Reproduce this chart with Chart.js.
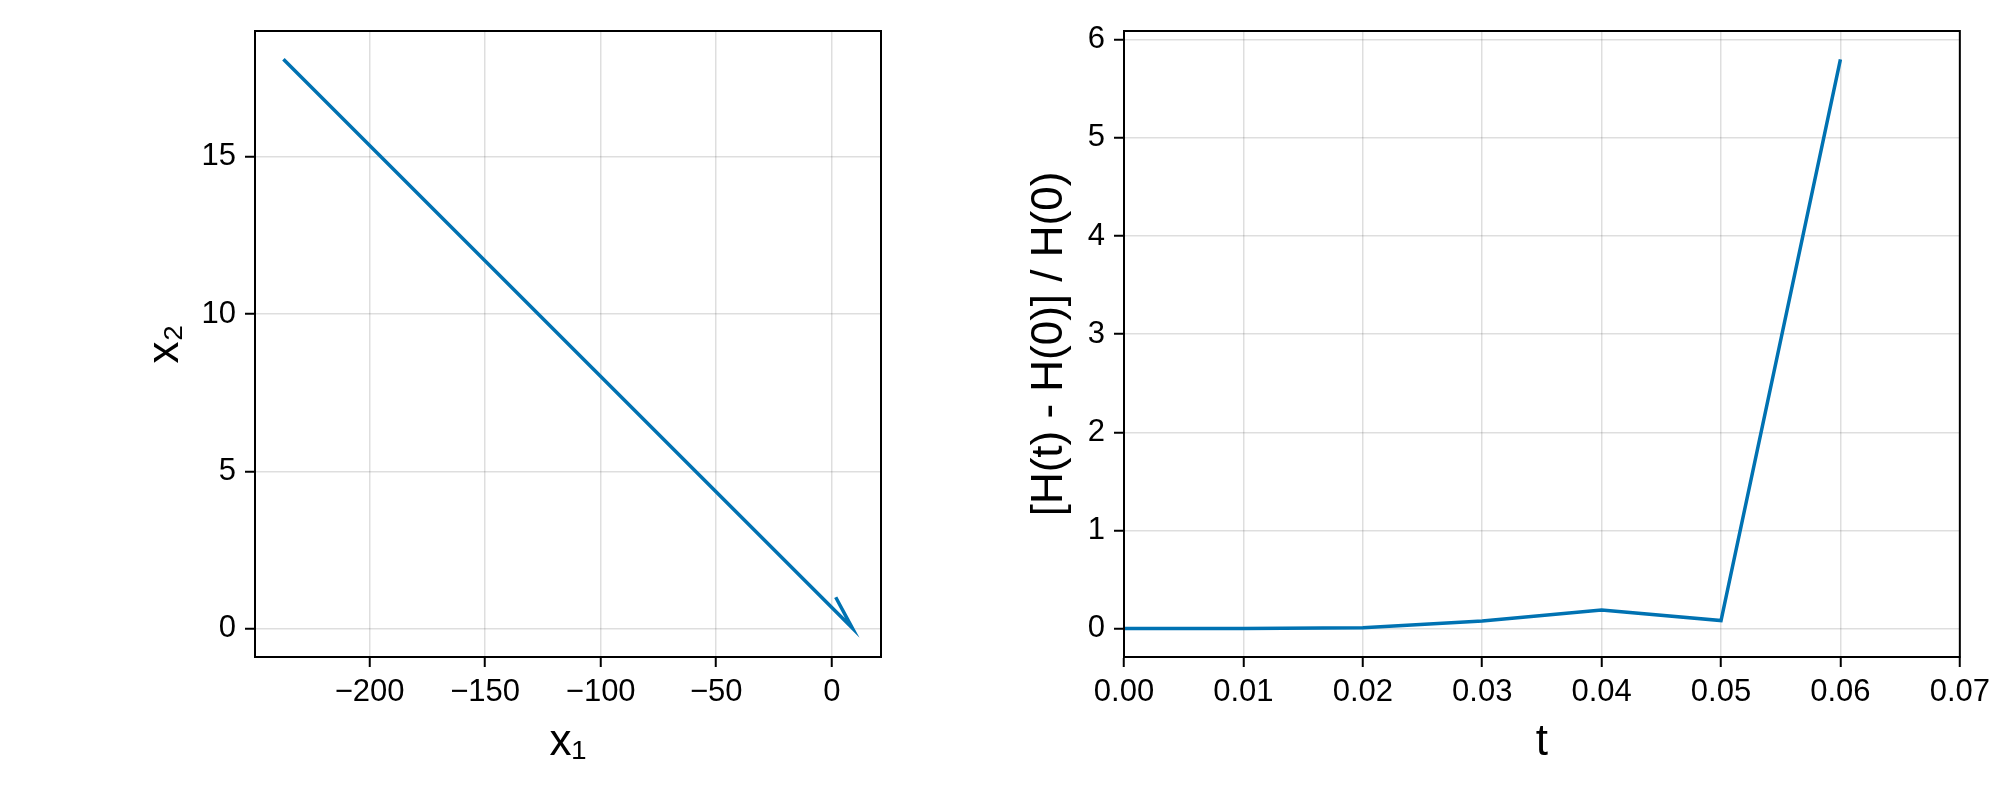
<!DOCTYPE html>
<html>
<head>
<meta charset="utf-8">
<script src="https://cdn.jsdelivr.net/npm/chart.js"></script>
<style>
  html, body { margin: 0; padding: 0; background: #fff; }
  .panel { position: absolute; top: 0; width: 1000px; height: 800px; }
</style>
</head>
<body>
<div class="panel" style="left:0"><canvas id="phaseChart" width="1000" height="800"></canvas></div>
<div class="panel" style="left:1000px"><canvas id="energyChart" width="1000" height="800"></canvas></div>
<script>
// ------------------------------------------------------- //
// Data
// ------------------------------------------------------ //
var x1Values = [1.7, 8.9, -237.3];
var x2Values = [1.0, 0.02, 18.1];
var x1Ticks = [-200, -150, -100, -50, 0];
var x1TickLabels = ['−200', '−150', '−100', '−50', '0'];
var x2Ticks = [0, 5, 10, 15];

var tValues = [0, 0.01, 0.02, 0.03, 0.04, 0.05, 0.06];
var energyError = [0, 0.001, 0.007, 0.078, 0.19, 0.081, 5.8];
var tTicks = [0, 0.01, 0.02, 0.03, 0.04, 0.05, 0.06, 0.07];
var tTickLabels = ['0.00', '0.01', '0.02', '0.03', '0.04', '0.05', '0.06', '0.07'];
var errTicks = [0, 1, 2, 3, 4, 5, 6];

var blue      = '#0072B2',
    gridColor = 'rgba(0, 0, 0, 0.13)',
    black     = '#000';

Chart.defaults.font.family = "'Liberation Sans', Arial, sans-serif";
Chart.defaults.color = black;

var tickFont  = { size: 31, lineHeight: 1 };
var titleFont = { size: 44, lineHeight: 1 };

// ------------------------------------------------------- //
// Helpers
// ------------------------------------------------------ //
function fixedTicks(values) {
    return function (scale) {
        scale.ticks = values.map(function (v) { return { value: v }; });
    };
}

function toPoints(xs, ys) {
    return xs.map(function (x, i) { return { x: x, y: ys[i] }; });
}

var framePlugin = {
    id: 'frame',
    afterDraw: function (chart) {
        var a = chart.chartArea, ctx = chart.ctx;
        ctx.save();
        ctx.strokeStyle = black;
        ctx.lineWidth = 2;
        ctx.strokeRect(a.left, a.top, a.right - a.left, a.bottom - a.top);
        ctx.restore();
    }
};

function axis(min, max, tickValues, labels, title, horizontal, size, titlePad) {
    return {
        type: 'linear',
        position: horizontal ? 'bottom' : 'left',
        min: min,
        max: max,
        afterBuildTicks: fixedTicks(tickValues),
        afterFit: function (scale) {
            if (horizontal) { scale.height = size; } else { scale.width = size; }
        },
        grid: { color: gridColor, lineWidth: 1.5, tickColor: black, tickLength: 10, tickWidth: 2 },
        border: { color: black, width: 2 },
        ticks: {
            font: tickFont,
            color: black,
            padding: horizontal ? 10 : 9,
            maxRotation: 0,
            autoSkip: false,
            callback: function (value, index) { return labels[index]; }
        },
        title: {
            display: true,
            text: title,
            font: titleFont,
            color: black,
            padding: horizontal ? { top: 0, bottom: titlePad } : { top: titlePad, bottom: 0 }
        }
    };
}

function lineOptions(xScale, yScale, rightPad) {
    return {
        responsive: false,
        animation: false,
        events: [],
        layout: { padding: { left: 0, right: rightPad, top: 31, bottom: 0 } },
        plugins: { legend: { display: false }, tooltip: { enabled: false } },
        scales: { x: xScale, y: yScale }
    };
}

// ------------------------------------------------------- //
// Phase plot
// ------------------------------------------------------ //
new Chart(document.getElementById('phaseChart'), {
    type: 'scatter',
    data: {
        datasets: [{
            data: toPoints(x1Values, x2Values),
            showLine: true,
            borderColor: blue,
            borderWidth: 3.5,
            pointRadius: 0,
            fill: false
        }]
    },
    options: lineOptions(
        axis(-249.6, 21.3, x1Ticks, x1TickLabels, 'x₁', true, 143, 35),
        axis(-0.9, 19.0, x2Ticks, x2Ticks.map(String), 'x₂', false, 255, 144),
        119
    ),
    plugins: [framePlugin]
});

// ------------------------------------------------------- //
// Energy error
// ------------------------------------------------------ //
new Chart(document.getElementById('energyChart'), {
    type: 'scatter',
    data: {
        datasets: [{
            data: toPoints(tValues, energyError),
            showLine: true,
            borderColor: blue,
            borderWidth: 3.5,
            pointRadius: 0,
            fill: false
        }]
    },
    options: lineOptions(
        axis(0, 0.07, tTicks, tTickLabels, 't', true, 143, 35),
        axis(-0.29, 6.09, errTicks, errTicks.map(String), '[H(t) - H(0)] / H(0)', false, 124, 28),
        33
    ),
    plugins: [framePlugin]
});
</script>
</body>
</html>
